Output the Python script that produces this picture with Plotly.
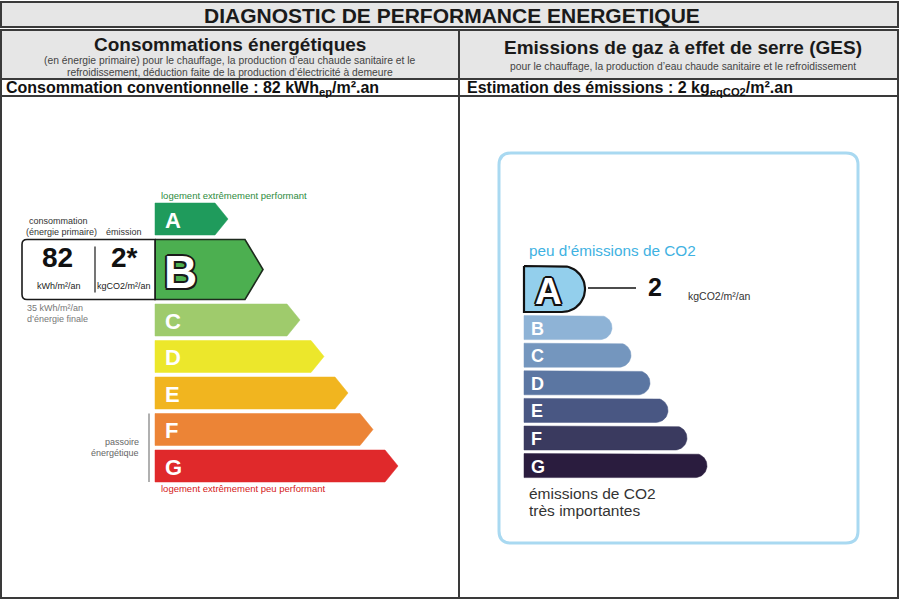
import numpy as np
import plotly.graph_objects as go

# ---------------- data ----------------
classes = ["A", "B", "C", "D", "E", "F", "G"]
dpe_colors = ["#1f9b5c", "#4caf50", "#9fcb6c", "#ece72b", "#f1b51f", "#ec8436", "#e0292b"]
ges_colors = ["#93cfec", "#8eb3d6", "#7496be", "#5b76a2", "#495783", "#3a3a5f", "#2a1c3e"]
dpe_class = "B"
ges_class = "A"
conso_primary = 82      # kWh/m²/an
emission = 2            # kgCO2/m²/an
conso_final = 35        # kWh/m²/an énergie finale

# ---------------- style / geometry ----------------
FONT = "Liberation Sans, Arial, sans-serif"
LINE = "#3a3a3a"
DPE_X0 = 155
DPE_TOP = 203
DPE_H = 32
DPE_H_SEL = 60
DPE_GAP = 4.5
DPE_TIPS = [228, 263, 300, 324, 348, 373, 398]
GES_X0 = 524
GES_TOP = 266
GES_H = 24
GES_H_SEL = 46
GES_GAP = 3.6
GES_ENDS = [585, 612, 631, 650, 668, 687, 707]

fig = go.Figure()
shapes = []
ann = []


def text(x, y, s, size, color="#222", bold=False, xanchor="center", yanchor="middle", shadow=None):
    f = dict(family=FONT, size=size, color=color, weight="bold" if bold else "normal")
    if shadow:
        f["shadow"] = shadow
    ann.append(dict(x=x, y=y, xref="x", yref="y", text=s, showarrow=False,
                    xanchor=xanchor, yanchor=yanchor, font=f))


# ---------------- frame ----------------
shapes.append(dict(type="rect", x0=1, x1=898, y0=2, y1=27, fillcolor="#e6e6e6",
                   line=dict(color=LINE, width=2), layer="below"))
shapes.append(dict(type="rect", x0=1, x1=898, y0=30, y1=79, fillcolor="#e6e6e6",
                   line=dict(width=0), layer="below"))
shapes.append(dict(type="rect", x0=1, x1=898, y0=30, y1=598,
                   line=dict(color=LINE, width=2)))
for yy in (79, 96):
    shapes.append(dict(type="line", x0=1, x1=898, y0=yy, y1=yy, line=dict(color=LINE, width=2)))
shapes.append(dict(type="line", x0=459, x1=459, y0=30, y1=598, line=dict(color=LINE, width=2)))

text(452, 15.5, "DIAGNOSTIC DE PERFORMANCE ENERGETIQUE", 21, "#1a1a1a", bold=True)
text(230, 44, "Consommations énergétiques", 19, "#1a1a1a", bold=True)
text(230, 60, "(en énergie primaire) pour le chauffage, la production d’eau chaude sanitaire et le", 10.3, "#444")
text(230, 72, "refroidissement, déduction faite de la production d’électricité à demeure", 10.3, "#444")
text(683, 47, "Emissions de gaz à effet de serre (GES)", 19, "#1a1a1a", bold=True)
text(683, 66, "pour le chauffage, la production d’eau chaude sanitaire et le refroidissement", 10.3, "#444")
text(4, 88, f"Consommation conventionnelle : {conso_primary} kWh<sub>ep</sub>/m².an", 16, "#111",
     bold=True, xanchor="left")
text(465, 88, f"Estimation des émissions : {emission} kg<sub>eqCO2</sub>/m².an", 16, "#111",
     bold=True, xanchor="left")

# ---------------- DPE scale ----------------
y = DPE_TOP
for i, (c, col) in enumerate(zip(classes, dpe_colors)):
    sel = c == dpe_class
    h = DPE_H_SEL if sel else DPE_H
    y0, y1 = y, y + h
    ym = (y0 + y1) / 2
    tip = DPE_TIPS[i]
    depth = 18 if sel else 13
    xs = [DPE_X0, tip - depth, tip, tip - depth, DPE_X0, DPE_X0]
    ys = [y0, y0, ym, y1, y1, y0]
    fig.add_trace(go.Scatter(x=xs, y=ys, mode="lines", fill="toself", fillcolor=col,
                             line=dict(color="#1d2b1d" if sel else col, width=1.6 if sel else 0.5),
                             hoverinfo="skip", showlegend=False))
    if sel:
        outline = ", ".join(f"{a}px {b}px 0 #1a1a1a" for a, b in
                            [(2, 0), (-2, 0), (0, 2), (0, -2), (1.5, 1.5), (-1.5, -1.5), (1.5, -1.5), (-1.5, 1.5)])
        text(162, ym + 2, c, 46, "white", bold=True, xanchor="left", shadow=outline)
        # value box
        shapes.append(dict(type="path",
                           path=f"M {DPE_X0},{y0} L 27,{y0} Q 22,{y0} 22,{y0 + 5} L 22,{y1 - 5} "
                                f"Q 22,{y1} 27,{y1} L {DPE_X0},{y1} Z",
                           fillcolor="white", line=dict(color="#1a1a1a", width=1.6)))
        shapes.append(dict(type="line", x0=95, x1=95, y0=y0 + 7, y1=y1 - 7,
                           line=dict(color="#1a1a1a", width=1.2)))
        text(57, ym - 12, f"{conso_primary}", 28, "#111", bold=True)
        text(124, ym - 12, f"{emission}*", 28, "#111", bold=True)
        text(59, ym + 16, "kWh/m²/an", 9, "#222")
        text(124, ym + 16, "kgCO2/m²/an", 9, "#222")
        text(58, y0 - 19, "consommation", 9, "#333")
        text(61, y0 - 8, "(énergie primaire)", 9, "#333")
        text(124, y0 - 8, "émission", 9, "#333")
        text(25, y1 + 8, f"{conso_final} kWh/m²/an", 9, "#777", xanchor="left")
        text(25, y1 + 19, "d’énergie finale", 9, "#777", xanchor="left")
    else:
        text(163, ym + 1, c, 22, "white", bold=True, xanchor="left")
    if c == "F":
        f_top = y0
    if c == "G":
        g_bot = y1
    y = y1 + DPE_GAP

text(159, 195, "logement extrêmement performant", 9.5, "#2e8b3e", xanchor="left")
text(159, g_bot + 6, "logement extrêmement peu performant", 9.5, "#d42020", xanchor="left")
shapes.append(dict(type="line", x0=149, x1=149, y0=f_top, y1=g_bot, line=dict(color="#b0b0b0", width=2)))
text(141, (f_top + g_bot) / 2 - 6, "passoire", 9, "#666", xanchor="right")
text(141, (f_top + g_bot) / 2 + 5, "énergétique", 9, "#666", xanchor="right")

# ---------------- GES scale ----------------
px0, px1, py0, py1, r = 499, 858, 153, 543, 12
shapes.append(dict(type="path",
                   path=f"M {px0 + r},{py0} L {px1 - r},{py0} Q {px1},{py0} {px1},{py0 + r} "
                        f"L {px1},{py1 - r} Q {px1},{py1} {px1 - r},{py1} L {px0 + r},{py1} "
                        f"Q {px0},{py1} {px0},{py1 - r} L {px0},{py0 + r} Q {px0},{py0} {px0 + r},{py0} Z",
                   line=dict(color="#a9d9f1", width=3), fillcolor="rgba(0,0,0,0)"))
text(527, 250, "peu d’émissions de CO2", 15.3, "#3fb2e2", xanchor="left")

t = np.linspace(-np.pi / 2, np.pi / 2, 30)
y = GES_TOP
for i, (c, col) in enumerate(zip(classes, ges_colors)):
    sel = c == ges_class
    h = GES_H_SEL if sel else GES_H
    y0, y1 = y, y + h
    ym = (y0 + y1) / 2
    rr = h / 2
    cx = GES_ENDS[i] - rr
    xs = np.concatenate([[GES_X0, cx], cx + rr * np.cos(t), [GES_X0, GES_X0]])
    ys = np.concatenate([[y0, y0], ym + rr * np.sin(t), [y1, y0]])
    fig.add_trace(go.Scatter(x=xs, y=ys, mode="lines", fill="toself", fillcolor=col,
                             line=dict(color="#111" if sel else col, width=2.2 if sel else 0.5),
                             hoverinfo="skip", showlegend=False))
    if sel:
        outline = ", ".join(f"{a}px {b}px 0 #111" for a, b in
                            [(2, 0), (-2, 0), (0, 2), (0, -2), (1.5, 1.5), (-1.5, -1.5), (1.5, -1.5), (-1.5, 1.5)])
        text(533, ym + 2, c, 37, "white", bold=True, xanchor="left", shadow=outline)
        shapes.append(dict(type="line", x0=GES_ENDS[i] + 3, x1=636, y0=ym - 1, y1=ym - 1,
                           line=dict(color="#111", width=1.6)))
        text(655, ym - 2, f"{emission}", 25, "#111", bold=True)
        text(686, ym + 7, "kgCO2/m²/an", 10.5, "#333", xanchor="left")
    else:
        text(529, ym + 1, c, 18, "white", bold=True, xanchor="left")
    y = y1 + GES_GAP

text(527, 493, "émissions de CO2", 15.5, "#333", xanchor="left")
text(527, 510, "très importantes", 15.5, "#333", xanchor="left")

fig.update_layout(
    width=900, height=600, margin=dict(l=0, r=0, t=0, b=0),
    paper_bgcolor="white", plot_bgcolor="white",
    xaxis=dict(range=[0, 900], visible=False, fixedrange=True),
    yaxis=dict(range=[600, 0], visible=False, fixedrange=True),
    shapes=shapes, annotations=ann, showlegend=False,
)
fig.write_html("out.html", config={"displayModeBar": False},
               post_script="document.body.style.margin='0';document.body.style.overflow='hidden';")
